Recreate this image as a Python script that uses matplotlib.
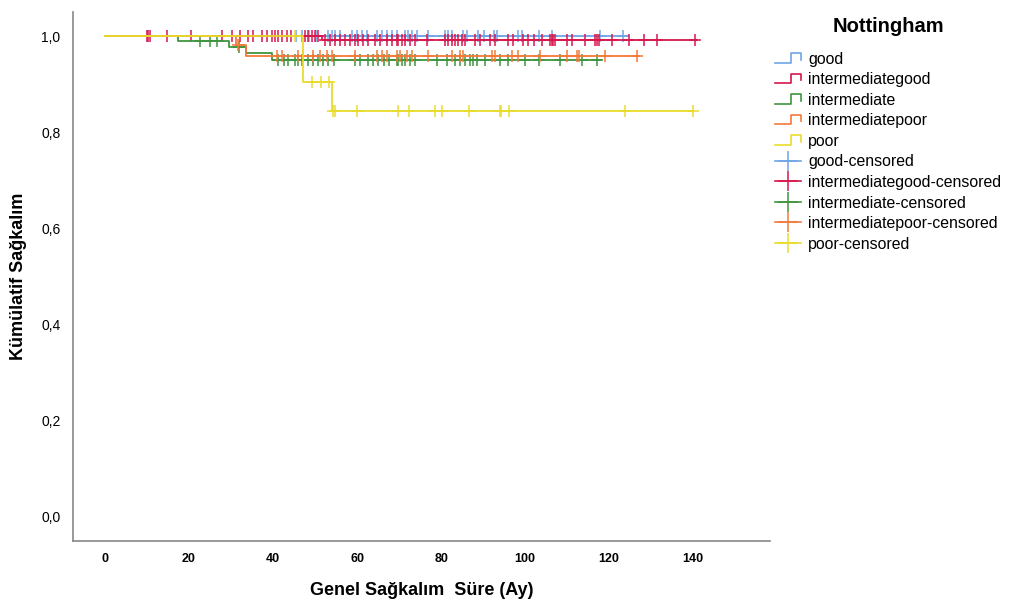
import numpy as np
import matplotlib
matplotlib.use("Agg")
import matplotlib.pyplot as plt
from matplotlib.lines import Line2D
from matplotlib.legend_handler import HandlerBase

plt.rcParams['font.family'] = ['Liberation Sans', 'DejaVu Sans']

# --- data (months, cumulative survival) ---
groups = ["good", "intermediategood", "intermediate", "intermediatepoor", "poor"]
colors = ["#6fa5e6", "#d8174d", "#3f953f", "#f47a3c", "#e9dc2c"]

good_t = [0]
good_s = [1.0]
good_end = 124.5
good_cens = [45.5, 47.0, 48.5, 50.2, 53.2, 54.0, 54.8, 56.0, 58.7, 59.9, 61.1, 62.3,
             64.7, 65.9, 67.1, 68.3, 69.4, 71.4, 72.2, 73.0, 74.2, 77.0, 81.0, 81.7,
             82.5, 85.3, 86.1, 88.9, 90.1, 92.5, 93.3, 98.4, 99.2, 103.2, 106.3,
             117.9, 123.4]

igood_t = [0, 51.7]
igood_s = [1.0, 0.993]
igood_end = 141.0
igood_cens = [10.0, 10.3, 10.8, 14.7, 20.6, 27.8, 30.2, 32.1, 34.1, 35.3, 37.3, 38.5,
              39.7, 40.5, 41.3, 42.1, 43.3, 44.4, 47.6, 48.4, 49.2, 50.0, 50.8,
              52.4, 53.6, 54.8, 56.0, 57.1, 58.3, 59.5, 60.3, 61.5, 62.7, 64.3, 65.5,
              67.1, 68.3, 69.4, 69.8, 70.6, 71.4, 72.6, 73.8, 76.6, 81.0, 81.7, 82.5,
              83.3, 84.1, 84.9, 85.7, 88.1, 89.3, 91.7, 92.9, 96.0, 97.2, 99.6, 100.8,
              102.0, 104.0, 106.0, 106.3, 106.7, 107.1, 109.9, 111.1, 114.3, 116.7,
              117.1, 117.5, 120.6, 124.6, 128.2, 131.3, 140.5]

inter_t = [0, 17.3, 29.5, 33.5, 39.7]
inter_s = [1.0, 0.99, 0.978, 0.964, 0.95]
inter_end = 118.0
inter_cens = [22.6, 25.0, 26.6, 31.9, 41.3, 42.5, 43.6, 45.2, 46.0, 46.8, 48.4, 49.6,
              50.8, 52.0, 53.2, 54.4, 59.5, 60.7, 62.7, 63.9, 65.1, 66.3, 67.5, 69.4,
              69.8, 70.6, 71.4, 72.6, 73.8, 79.0, 81.3, 83.3, 84.5, 85.7, 86.9, 87.7,
              88.5, 90.5, 94.0, 96.0, 100.0, 103.2, 108.3, 113.5, 117.0]

ipoor_t = [0, 31.1, 33.5]
ipoor_s = [1.0, 0.981, 0.958]
ipoor_end = 127.0
ipoor_cens = [31.7, 40.9, 42.1, 46.0, 47.2, 49.6, 51.2, 52.8, 54.0, 59.5, 64.7, 65.9,
              67.1, 69.4, 70.2, 71.8, 73.0, 77.0, 82.5, 84.5, 85.3, 92.0, 92.9, 96.8,
              98.4, 103.6, 109.9, 112.3, 112.7, 119.0, 126.6]

poor_t = [0, 47.2, 54.0]
poor_s = [1.0, 0.904, 0.844]
poor_end = 140.0
poor_cens = [45.2, 49.2, 51.4, 53.4, 54.3, 54.8, 59.9, 69.8, 72.4, 78.6, 80.2, 86.7,
             93.9, 94.2, 96.2, 123.8, 140.0]

series = [
    (good_t, good_s, good_end, good_cens),
    (igood_t, igood_s, igood_end, igood_cens),
    (inter_t, inter_s, inter_end, inter_cens),
    (ipoor_t, ipoor_s, ipoor_end, ipoor_cens),
    (poor_t, poor_s, poor_end, poor_cens),
]

y_ticks = [0.0, 0.2, 0.4, 0.6, 0.8, 1.0]
y_labels = ["0,0", "0,2", "0,4", "0,6", "0,8", "1,0"]
x_ticks = [0, 20, 40, 60, 80, 100, 120, 140]


class StepHandler(HandlerBase):
    # draws the little step symbol used in the legend
    def create_artists(self, legend, orig_handle, xdescent, ydescent,
                       width, height, fontsize, trans):
        x0 = -xdescent
        y0 = -ydescent
        xs = [x0, x0 + 0.6 * width, x0 + 0.6 * width, x0 + width, x0 + width]
        ys = [y0 + 0.1 * height, y0 + 0.1 * height, y0 + 0.95 * height,
              y0 + 0.95 * height, y0 + 0.35 * height]
        ln = Line2D(xs, ys, color=orig_handle.get_color(), lw=1.2)
        ln.set_transform(trans)
        return [ln]


fig = plt.figure(figsize=(10.12, 6.05), dpi=100)
ax = fig.add_axes([0.0721, 0.1058, 0.6889, 0.874])

for (t, s, end, cens), col in zip(series, colors):
    tt = list(t) + [end]
    ss = list(s) + [s[-1]]
    ax.step(tt, ss, where='post', color=col, lw=1.3)
    idx = np.searchsorted(np.array(t), np.array(cens), side='right') - 1
    cy = np.array(s)[idx]
    ax.plot(cens, cy, linestyle='none', marker='+', color=col,
            markersize=8, mew=1.1)

ax.set_xlim(-7.6, 158.3)
ax.set_ylim(-0.052, 1.05)
ax.set_yticks(y_ticks)
ax.set_yticklabels(y_labels, fontsize=10)
ax.set_xticks(x_ticks)
ax.set_xticklabels([str(v) for v in x_ticks], fontsize=9, fontweight='bold')
ax.tick_params(length=0, pad=9)
for side in ['top', 'right']:
    ax.spines[side].set_visible(False)
for side in ['left', 'bottom']:
    ax.spines[side].set_color('#888888')
    ax.spines[side].set_linewidth(1.2)

ax.set_xlabel("Genel Sağkalım  Süre (Ay)", fontsize=13, fontweight='bold')
ax.set_ylabel("Kümülatif Sağkalım", fontsize=13, fontweight='bold')
ax.xaxis.set_label_coords(0.5, -0.077)
ax.yaxis.set_label_coords(-0.066, 0.5)

handles = []
labels = []
for g, col in zip(groups, colors):
    handles.append(Line2D([], [], color=col))
    labels.append(g)
cens_handles = []
for g, col in zip(groups, colors):
    h = Line2D([], [], color=col, marker='+', markersize=14, mew=1.1, lw=1.2)
    cens_handles.append(h)
    labels.append(g + "-censored")
handles = handles + cens_handles

handler_map = {h: StepHandler() for h in handles[:5]}
fig.text(888 / 1012, 1 - 27 / 605, "Nottingham", fontsize=14.5, fontweight='bold',
         ha='center', va='center')
leg = fig.legend(handles, labels, loc='upper left', bbox_to_anchor=(0.760, 0.925),
                 frameon=False, fontsize=11.4, borderaxespad=0,
                 handler_map=handler_map, handlelength=1.6, handletextpad=0.45,
                 labelspacing=0.35)

fig.savefig("out.png", dpi=100)
